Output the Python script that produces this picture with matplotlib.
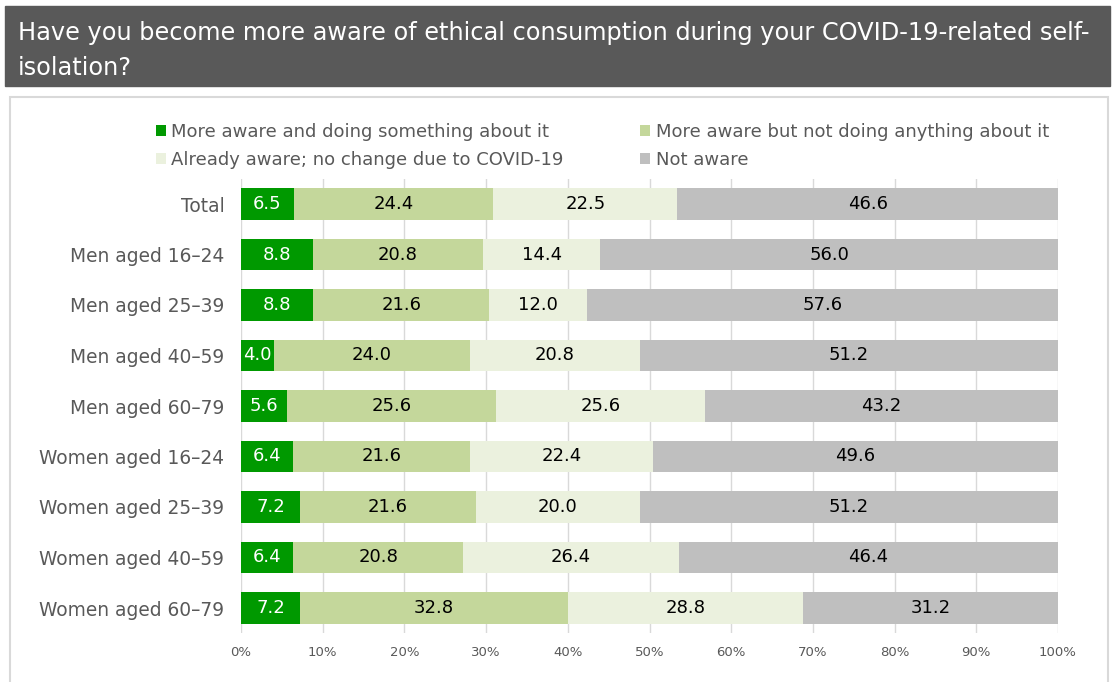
import numpy as np
import matplotlib.pyplot as plt
from matplotlib.patches import Rectangle

groups = ["Total", "Men aged 16–24", "Men aged 25–39", "Men aged 40–59",
          "Men aged 60–79", "Women aged 16–24", "Women aged 25–39",
          "Women aged 40–59", "Women aged 60–79"]
series = ["More aware and doing something about it",
          "More aware but not doing anything about it",
          "Already aware; no change due to COVID-19",
          "Not aware"]
doing = [6.5, 8.8, 8.8, 4.0, 5.6, 6.4, 7.2, 6.4, 7.2]
not_doing = [24.4, 20.8, 21.6, 24.0, 25.6, 21.6, 21.6, 20.8, 32.8]
already = [22.5, 14.4, 12.0, 20.8, 25.6, 22.4, 20.0, 26.4, 28.8]
not_aware = [46.6, 56.0, 57.6, 51.2, 43.2, 49.6, 51.2, 46.4, 31.2]
colors = ["#009900", "#C4D79B", "#EBF1DE", "#BFBFBF"]
label_colors = ["white", "black", "black", "black"]

W, H = 1114, 682
fig = plt.figure(figsize=(W / 100, H / 100), dpi=100)

# title band
fig.patches.append(Rectangle((5 / W, 1 - 86 / H), 1105 / W, 80 / H,
                             transform=fig.transFigure, color="#595959", zorder=0))
fig.text(18 / W, 1 - 33 / H,
         "Have you become more aware of ethical consumption during your COVID-19-related self-",
         color="white", fontsize=17.3, va="center", ha="left")
fig.text(18 / W, 1 - 68 / H, "isolation?", color="white", fontsize=17.3,
         va="center", ha="left")

# chart frame
fig.patches.append(Rectangle((10 / W, -0.05), 1098 / W, 1 - 97 / H + 0.05,
                             transform=fig.transFigure, fill=False,
                             edgecolor="#D9D9D9", linewidth=1.5, zorder=0))

row = 50.5
top = 204 - row / 2
ax_h = row * len(groups)
ax = fig.add_axes([241 / W, 1 - (top + ax_h) / H, 817 / W, ax_h / H])

y = np.arange(len(groups))
left = np.zeros(len(groups))
bars = []
for vals, name, c, lc in zip([doing, not_doing, already, not_aware],
                             series, colors, label_colors):
    b = ax.barh(y, vals, left=left, height=0.63, color=c, label=name, zorder=2)
    ax.bar_label(b, labels=[f"{v:.1f}" for v in vals], label_type="center",
                 color=lc, fontsize=13)
    left += np.array(vals)
    bars.append(b)

ax.set_xlim(0, 100)
ax.set_ylim(len(groups) - 0.5, -0.5)
ax.set_xticks(np.arange(0, 101, 10))
ax.set_xticklabels([f"{t}%" for t in range(0, 101, 10)])
ax.set_yticks(y)
ax.set_yticklabels(groups)
ax.tick_params(axis="x", length=0, pad=9, labelsize=9.5, labelcolor="#595959")
ax.tick_params(axis="y", length=0, pad=12, labelsize=13.4, labelcolor="#595959")
ax.grid(axis="x", color="#D9D9D9", linewidth=1, zorder=0)
ax.set_axisbelow(True)
for s in ax.spines.values():
    s.set_visible(False)

order = [bars[0], bars[2], bars[1], bars[3]]
fig.legend(order, [series[0], series[2], series[1], series[3]],
           ncol=2, loc="upper left", bbox_to_anchor=(156 / W, 1 - 123 / H),
           frameon=False, fontsize=13, labelcolor="#595959",
           handlelength=0.55, handleheight=0.55, handletextpad=0.3,
           columnspacing=4.25, labelspacing=0.55, borderpad=0, borderaxespad=0)

fig.savefig("out.png", dpi=100)
